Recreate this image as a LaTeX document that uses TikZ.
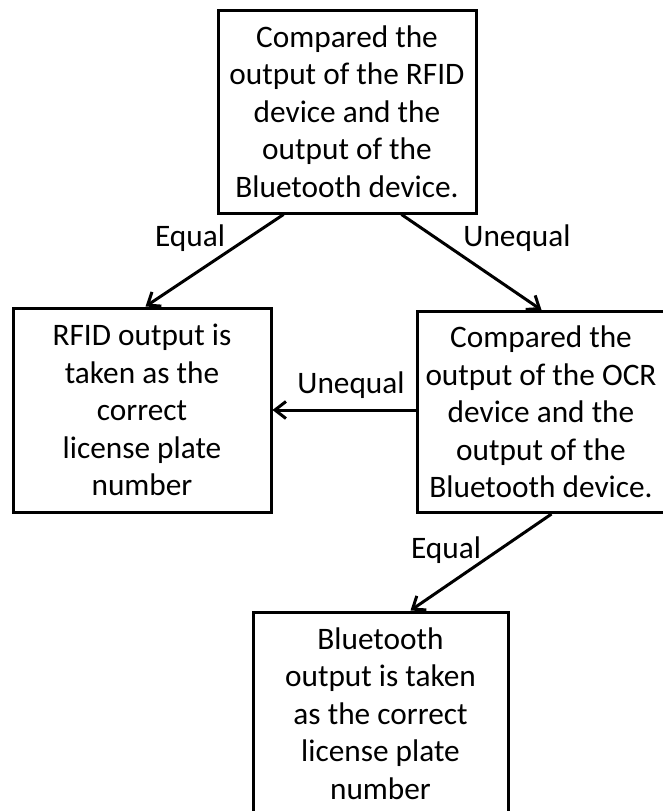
\documentclass[tikz,border=0pt]{standalone}
\usepackage{fontspec}
\setmainfont{Carlito}
\usetikzlibrary{arrows.meta,calc}
\tikzset{
  box/.style={draw=black, line width=3pt, inner sep=0pt, align=center, fill=white,
    font=\fontsize{31.3}{37.5}\selectfont},
  lbl/.style={inner sep=0pt, font=\fontsize{31.3}{37.5}\selectfont},
  conn/.style={line width=3pt, -{Straight Barb[length=11pt,width=17pt,line width=3pt]}}
}
\begin{document}
\begin{tikzpicture}[x=1pt,y=1pt,yscale=-1]
\useasboundingbox (0,0) rectangle (663,811);
\clip (0,0) rectangle (663,811);
\fill[white] (0,0) rectangle (663,811);
\node[box, minimum width=258pt, minimum height=203pt] (top) at (347,111.5)
  {Compared the\\output of the RFID\\device and the\\output of the\\Bluetooth device.};
\node[box, minimum width=258pt, minimum height=204pt] (left) at (142,410)
  {RFID output is\\taken as the\\correct\\license plate\\number};
\node[box, minimum width=248pt, minimum height=201pt] (right) at (541,412)
  {Compared the\\output of the OCR\\device and the\\output of the\\Bluetooth device.};
\node[box, minimum width=255pt, minimum height=203pt] (bottom) at (380.5,713.5)
  {Bluetooth\\output is taken\\as the correct\\license plate\\number};
\draw[conn] ([xshift=67pt]top.south west) -- ([xshift=134pt]left.north west);
\draw[conn] ([xshift=185pt]top.south west) -- ([xshift=126pt]right.north west);
\draw[conn] (left.east -| right.west) -- (left.east);
\draw[conn] ([xshift=136pt]right.south west) -- ([xshift=159pt]bottom.north west);
\node[lbl] (l1) at (190,238) {Equal};
\node[lbl] (l2) at (517,238) {Unequal};
\node[lbl] (l3) at (351,385) {Unequal};
\node[lbl] (l4) at (446,550) {Equal};
\end{tikzpicture}
\end{document}
